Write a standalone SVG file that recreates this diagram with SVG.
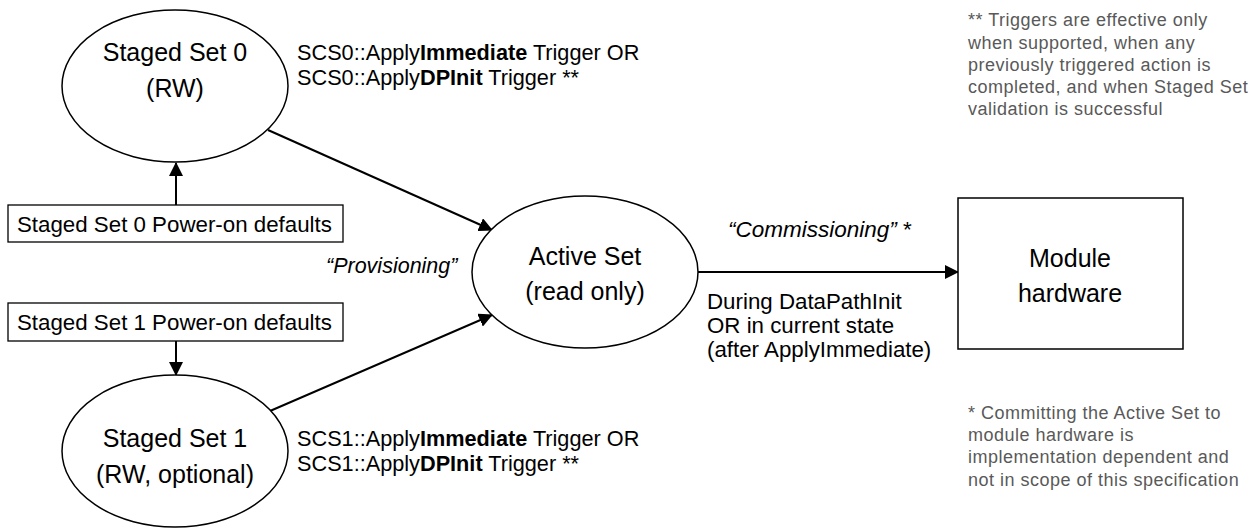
<svg xmlns="http://www.w3.org/2000/svg" width="1253" height="529" viewBox="0 0 1253 529">
<defs>
<style>
.node{fill:#fff;stroke:#000;stroke-width:1.5}
.box{fill:#fff;stroke:#000;stroke-width:1.3}
.t{font-family:"Liberation Sans",Arial,sans-serif;fill:#000}
.big{font-size:25px;text-anchor:middle}
.lbl{font-size:21.7px}
.it{font-style:italic}
.note{font-family:"Liberation Sans",Arial,sans-serif;font-size:18px;letter-spacing:0.5px;fill:#595959}
.conn{stroke:#000;stroke-width:2;fill:none}
</style>
<marker id="arr" markerUnits="userSpaceOnUse" markerWidth="14" markerHeight="14" refX="13" refY="7" orient="auto">
<path d="M0,0 L14,7 L0,14 z" fill="#000"/>
</marker>
</defs>
<rect width="1253" height="529" fill="#fff"/>

<g id="connectors">
<line class="conn" x1="176" y1="205" x2="176" y2="163" marker-end="url(#arr)"/>
<line class="conn" x1="176" y1="341" x2="176" y2="375" marker-end="url(#arr)"/>
<line class="conn" x1="268" y1="130" x2="492" y2="230" marker-end="url(#arr)"/>
<line class="conn" x1="270" y1="411" x2="492" y2="315" marker-end="url(#arr)"/>
<line class="conn" x1="698" y1="272" x2="958" y2="272" marker-end="url(#arr)"/>
</g>

<g id="staged0">
<ellipse class="node" cx="175" cy="86" rx="113" ry="76"/>
<text class="t big" x="175" y="61">Staged Set 0</text>
<text class="t big" x="175" y="97">(RW)</text>
</g>

<g id="staged0-defaults">
<rect class="box" x="8" y="205" width="335" height="37"/>
<text class="t" x="17" y="232" font-size="22.3">Staged Set 0 Power-on defaults</text>
</g>

<g id="staged1-defaults">
<rect class="box" x="8" y="303" width="335" height="38"/>
<text class="t" x="17" y="330" font-size="22.3">Staged Set 1 Power-on defaults</text>
</g>

<g id="staged1">
<ellipse class="node" cx="175" cy="451" rx="113" ry="76"/>
<text class="t big" x="175" y="447">Staged Set 1</text>
<text class="t big" x="175" y="483">(RW, optional)</text>
</g>

<g id="active">
<ellipse class="node" cx="585" cy="272" rx="113" ry="76"/>
<text class="t big" x="585" y="265">Active Set</text>
<text class="t big" x="585" y="300">(read only)</text>
</g>

<g id="module">
<rect class="node" x="958" y="198" width="225" height="151"/>
<text class="t big" x="1070" y="267">Module</text>
<text class="t big" x="1070" y="302">hardware</text>
</g>

<g id="labels">
<text class="t lbl" x="297" y="60">SCS0::Apply<tspan font-weight="bold">Immediate</tspan> Trigger OR</text>
<text class="t lbl" x="297" y="85">SCS0::Apply<tspan font-weight="bold">DPInit</tspan> Trigger **</text>
<text class="t lbl" x="297" y="446">SCS1::Apply<tspan font-weight="bold">Immediate</tspan> Trigger OR</text>
<text class="t lbl" x="297" y="471">SCS1::Apply<tspan font-weight="bold">DPInit</tspan> Trigger **</text>
<text class="t it" x="326" y="273" font-size="21.5">“Provisioning”</text>
<text class="t" x="728" y="237" font-size="22.5"><tspan font-style="italic">“Commissioning”</tspan> *</text>
<text class="t" x="707" y="309" font-size="22.3">During DataPathInit</text>
<text class="t" x="707" y="333" font-size="22.3">OR in current state</text>
<text class="t" x="707" y="357" font-size="22.3">(after ApplyImmediate)</text>
</g>

<g id="notes">
<text class="note" x="968" y="26">** Triggers are effective only</text>
<text class="note" x="968" y="49">when supported, when any</text>
<text class="note" x="968" y="71">previously triggered action is</text>
<text class="note" x="968" y="93">completed, and when Staged Set</text>
<text class="note" x="968" y="115">validation is successful</text>
<text class="note" x="968" y="419">* Committing the Active Set to</text>
<text class="note" x="968" y="441">module hardware is</text>
<text class="note" x="968" y="463">implementation dependent and</text>
<text class="note" x="968" y="486">not in scope of this specification</text>
</g>
</svg>
